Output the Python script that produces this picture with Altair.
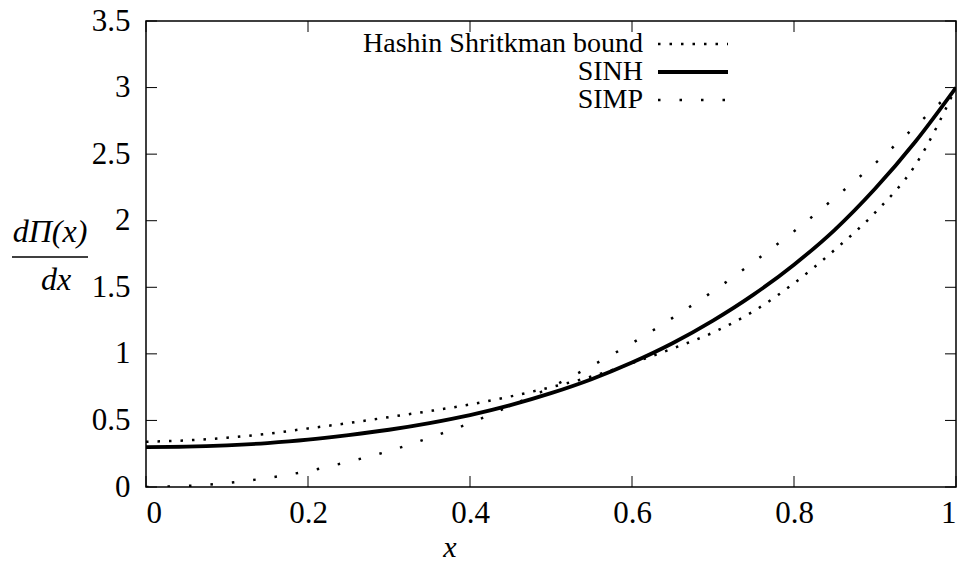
import altair as alt
import pandas as pd

xs = [0.0, 0.05, 0.1, 0.15, 0.2, 0.25, 0.3, 0.35, 0.4, 0.45, 0.5,
      0.55, 0.6, 0.65, 0.7, 0.75, 0.8, 0.85, 0.9, 0.95, 1.0]
hs_bound = [0.34, 0.35, 0.37, 0.40, 0.44, 0.48, 0.525, 0.57, 0.62, 0.68, 0.75,
            0.83, 0.93, 1.04, 1.16, 1.32, 1.53, 1.78, 2.06, 2.42, 3.00]
sinh = [0.300, 0.303, 0.313, 0.33, 0.355, 0.39, 0.43, 0.48, 0.54, 0.615, 0.705,
        0.81, 0.935, 1.08, 1.25, 1.445, 1.67, 1.93, 2.24, 2.595, 3.00]
simp = [0.0, 0.008, 0.03, 0.068, 0.12, 0.19, 0.27, 0.37, 0.48, 0.61, 0.75,
        0.91, 1.08, 1.27, 1.47, 1.69, 1.92, 2.17, 2.43, 2.71, 3.00]

series_names = ["Hashin Shritkman bound", "SINH", "SIMP"]
x_ticks = [0, 0.2, 0.4, 0.6, 0.8, 1]
y_ticks = [0, 0.5, 1, 1.5, 2, 2.5, 3, 3.5]

W, H = 810, 466
FONT = "Liberation Serif"
FS = 31
LFS = 28

xscale = alt.Scale(domain=[0, 1], nice=False, zero=False)
yscale = alt.Scale(domain=[0, 3.5], nice=False, zero=False)

df_hs = pd.DataFrame({"x": xs, "y": hs_bound})
df_sinh = pd.DataFrame({"x": xs, "y": sinh})
df_simp = pd.DataFrame({"x": xs, "y": simp})

X = alt.X("x:Q", scale=xscale,
          axis=alt.Axis(values=x_ticks, format="~g", title=None, labelPadding=11))
Y = alt.Y("y:Q", scale=yscale,
          axis=alt.Axis(values=y_ticks, format="~g", title=None, labelPadding=16))

hs_line = alt.Chart(df_hs).mark_line(
    color="black", strokeWidth=2.5, strokeDash=[2.5, 9], strokeCap="butt",
    interpolate="monotone", clip=True
).encode(x=X, y=Y)

sinh_line = alt.Chart(df_sinh).mark_line(
    color="black", strokeWidth=3.8, interpolate="monotone", clip=True
).encode(x=X, y=Y)

simp_line = alt.Chart(df_simp).mark_line(
    color="black", strokeWidth=2.5, strokeDash=[2.5, 19], strokeCap="butt",
    interpolate="monotone", clip=True
).encode(x=X, y=Y)

# inward ticks on all four sides (gnuplot style)
xt = pd.DataFrame({"x": x_ticks})
yt = pd.DataFrame({"y": y_ticks})
tick_len = 11
xt_bottom = alt.Chart(xt).mark_rule(color="black", strokeWidth=1).encode(
    x=alt.X("x:Q", scale=xscale), y=alt.value(H), y2=alt.value(H - tick_len))
xt_top = alt.Chart(xt).mark_rule(color="black", strokeWidth=1).encode(
    x=alt.X("x:Q", scale=xscale), y=alt.value(0), y2=alt.value(tick_len))
yt_left = alt.Chart(yt).mark_rule(color="black", strokeWidth=1).encode(
    y=alt.Y("y:Q", scale=yscale), x=alt.value(0), x2=alt.value(tick_len))
yt_right = alt.Chart(yt).mark_rule(color="black", strokeWidth=1).encode(
    y=alt.Y("y:Q", scale=yscale), x=alt.value(W - tick_len), x2=alt.value(W))

# legend (manual, gnuplot style: label right-aligned, sample to its right)
leg_y = [23, 51, 79]
leg_text = []
leg_lines = []
styles = [dict(strokeWidth=2.5, strokeDash=[2.5, 9], strokeCap="butt"),
          dict(strokeWidth=3.8),
          dict(strokeWidth=2.5, strokeDash=[2.5, 19], strokeCap="butt")]
for name, yy, st in zip(series_names, leg_y, styles):
    d = pd.DataFrame({"label": [name]})
    leg_text.append(alt.Chart(d).mark_text(
        font=FONT, fontSize=LFS, align="right", baseline="middle", color="black"
    ).encode(text="label:N", x=alt.value(497), y=alt.value(yy)))
    leg_lines.append(alt.Chart(d).mark_rule(color="black", **st).encode(
        x=alt.value(512), x2=alt.value(582), y=alt.value(yy)))

# axis titles
xtitle = alt.Chart(pd.DataFrame({"t": ["x"]})).mark_text(
    font=FONT, fontSize=30, fontStyle="italic", align="center", baseline="middle", color="black"
).encode(text="t:N", x=alt.value(304), y=alt.value(527))

num = alt.Chart(pd.DataFrame({"t": ["dΠ(x)"]})).mark_text(
    font=FONT, fontSize=32, fontStyle="italic", align="center", baseline="middle", color="black"
).encode(text="t:N", x=alt.value(-96), y=alt.value(211))
frac_rule = alt.Chart(pd.DataFrame({"t": [1]})).mark_rule(color="black", strokeWidth=1.5).encode(
    x=alt.value(-134), x2=alt.value(-58), y=alt.value(236))
den = alt.Chart(pd.DataFrame({"t": ["dx"]})).mark_text(
    font=FONT, fontSize=32, fontStyle="italic", align="center", baseline="middle", color="black"
).encode(text="t:N", x=alt.value(-90), y=alt.value(259))

chart = alt.layer(
    hs_line, sinh_line, simp_line,
    xt_bottom, xt_top, yt_left, yt_right,
    *leg_text, *leg_lines,
    xtitle, num, frac_rule, den
).properties(
    width=W, height=H,
    autosize=alt.AutoSizeParams(type="none"),
    padding={"left": 146, "top": 21, "right": 8, "bottom": 78},
    background="white",
).configure_view(
    stroke="black", strokeWidth=1.5
).configure_axis(
    labelFont=FONT, labelFontSize=FS, labelColor="black",
    ticks=False, domain=False, grid=False
)

chart.save("out.html", embed_options={"renderer": "svg", "actions": False})
